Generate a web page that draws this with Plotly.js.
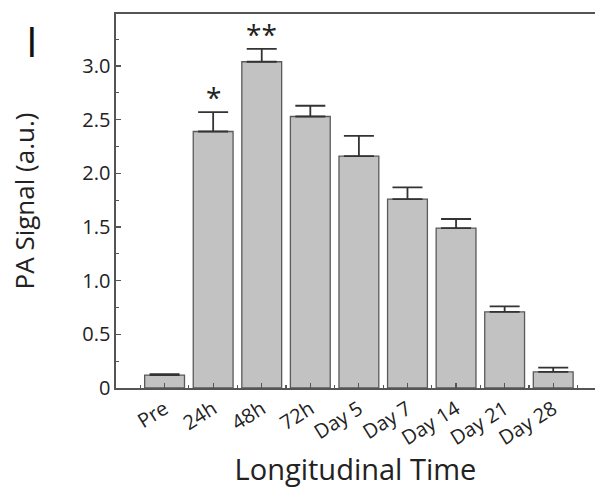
<!DOCTYPE html>
<html>
<head>
<meta charset="utf-8">
<script src="https://cdn.plot.ly/plotly-3.0.1.min.js"></script>
<style>html,body{margin:0;padding:0;background:#fff;}#chart{width:595px;height:488px;}</style>
</head>
<body>
<div id="chart"></div>
<script>
const categories = ["Pre", "24h", "48h", "72h", "Day 5", "Day 7", "Day 14", "Day 21", "Day 28"];
const signal = [0.12, 2.39, 3.04, 2.53, 2.16, 1.76, 1.49, 0.71, 0.15];
const errUp = [0.01, 0.18, 0.12, 0.10, 0.19, 0.11, 0.085, 0.05, 0.04];
const yTickVals = [0, 0.5, 1.0, 1.5, 2.0, 2.5, 3.0];
const yTickText = ["0", "0.5", "1.0", "1.5", "2.0", "2.5", "3.0"];
const sigMarks = [{cat: "24h", text: "*"}, {cat: "48h", text: "**"}];

const xIdx = categories.map((c, i) => i);
const FONT = "Open Sans, Lato, sans-serif";

const trace = {
  type: "bar",
  x: xIdx,
  y: signal,
  width: 0.82,
  marker: {color: "#c2c2c2", line: {color: "#5a5a5a", width: 1.3}},
  error_y: {type: "data", array: errUp, symmetric: false, arrayminus: categories.map(() => 0),
            color: "#333", thickness: 1.8, width: 15}
};

const annotations = sigMarks.map(m => {
  const i = categories.indexOf(m.cat);
  return {x: i, y: signal[i] + errUp[i], yshift: 15, text: m.text, showarrow: false,
          font: {family: FONT, size: 28, color: "#222"}, xanchor: "center", yanchor: "middle"};
});
annotations.push({xref: "paper", yref: "paper", x: -0.175, y: 1.01, text: "I", showarrow: false,
  font: {family: FONT, size: 42, color: "#111"}, xanchor: "center", yanchor: "top"});

const layout = {
  width: 595, height: 488,
  margin: {l: 116, r: 0, t: 14, b: 100},
  paper_bgcolor: "#fff", plot_bgcolor: "#fff",
  showlegend: false,
  font: {family: FONT, color: "#222"},
  xaxis: {
    range: [-1, 8.86],
    tickvals: xIdx, ticktext: categories,
    tickangle: -32,
    tickfont: {family: FONT, size: 20, color: "#222"},
    ticks: "inside", ticklen: 5, tickcolor: "#555", tickwidth: 1.2,
    minor: {tickmode: "linear", tick0: -0.5, dtick: 0.5, ticks: "inside", ticklen: 3, tickcolor: "#555"},
    showline: true, linecolor: "#555", linewidth: 1.6, mirror: true,
    showgrid: false, zeroline: false,
    title: {text: "Longitudinal Time", font: {family: FONT, size: 29, color: "#222"}, standoff: 6}
  },
  yaxis: {
    range: [0, 3.485],
    tickvals: yTickVals, ticktext: yTickText,
    tickfont: {family: FONT, size: 20, color: "#222"},
    ticks: "inside", ticklen: 5, tickcolor: "#555", tickwidth: 1.2,
    minor: {tickmode: "linear", tick0: 0, dtick: 0.25, ticks: "inside", ticklen: 3, tickcolor: "#555"},
    showline: true, linecolor: "#555", linewidth: 1.6,
    showgrid: false, zeroline: false,
    title: {text: "PA Signal (a.u.)", font: {family: FONT, size: 26, color: "#222"}, standoff: 40}
  },
  annotations: annotations
};

Plotly.newPlot("chart", [trace], layout, {staticPlot: true, displayModeBar: false});
</script>
</body>
</html>
